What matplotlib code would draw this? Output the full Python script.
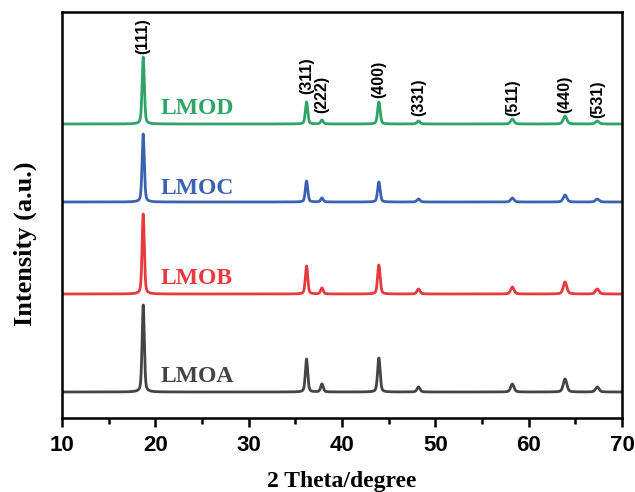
import numpy as np
import matplotlib
matplotlib.use("Agg")
import matplotlib.pyplot as plt

# ---- data ----
hkl_labels = ["(111)", "(311)", "(222)", "(400)", "(331)", "(511)", "(440)", "(531)"]
peak_pos = [18.7, 36.2, 37.85, 43.95, 48.2, 58.25, 63.9, 67.35]
peak_fwhm = [0.28, 0.30, 0.32, 0.32, 0.38, 0.42, 0.45, 0.45]

series_names = ["LMOA", "LMOB", "LMOC", "LMOD"]
series_colors = ["#444444", "#E8393F", "#3A62B0", "#2EA466"]
baselines = [26, 124, 216, 294]
heights_A = [87, 33, 8, 34, 5, 8, 13, 5]
heights_B = [80, 28, 6, 29, 5, 7, 12, 5]
heights_C = [68, 21, 4, 20, 3, 4, 7, 3]
heights_D = [67, 22, 4, 22, 3, 5, 8, 3]
series_heights = [heights_A, heights_B, heights_C, heights_D]
name_label_y = [42, 140, 230, 310]

label_text_bottom = [364, 324, 305, 320, 302, 302, 305, 300]

x = np.linspace(10, 70, 3001)


def profile(base, heights):
    y = np.full_like(x, float(base))
    for p, h, w in zip(peak_pos, heights, peak_fwhm):
        g = np.exp(-4 * np.log(2) * ((x - p) / w) ** 2)
        l = 1.0 / (1 + 4 * ((x - p) / w) ** 2)
        y += h * (0.6 * g + 0.4 * l)
    return y


fig = plt.figure(figsize=(6.35, 4.92), dpi=100)
ax = fig.add_axes([62 / 635, 74 / 492, 560 / 635, 406 / 492])

for name, col, base, hts, ly in zip(series_names, series_colors, baselines,
                                    series_heights, name_label_y):
    ax.plot(x, profile(base, hts), color=col, lw=2.0, solid_joinstyle="round")
    ax.text(20.6, ly, name, color=col,
            fontsize=17, fontweight="bold", family="Liberation Serif",
            ha="left", va="center")

for lab, p, yb in zip(hkl_labels, peak_pos, label_text_bottom):
    ax.text(p, yb, lab, rotation=90, ha="center", va="bottom",
            fontsize=11.5, family="Liberation Sans", fontweight="bold")

ax.set_xlim(10, 70)
ax.set_ylim(0, 406)
ax.set_yticks([])
ax.set_xticks(np.arange(10, 71, 10))
ax.set_xticks(np.arange(15, 70, 10), minor=True)
ax.tick_params(axis="x", which="major", direction="out", length=6.5, width=1.8,
               labelsize=16, pad=6)
ax.tick_params(axis="x", which="minor", direction="out", length=4.5, width=1.8)
for lbl in ax.get_xticklabels():
    lbl.set_fontweight("bold")
    lbl.set_family("Liberation Sans")
for s in ax.spines.values():
    s.set_linewidth(1.8)
    s.set_color("black")

fig.text(342 / 635, 1 - 481 / 492, "2 Theta/degree", fontsize=17,
         fontweight="bold", family="Liberation Serif", ha="center", va="center")
fig.text(25 / 635, 1 - 244 / 492, "Intensity (a.u.)", fontsize=19,
         fontweight="bold", family="Liberation Serif", ha="center",
         va="center", rotation=90)

fig.savefig("out.png", dpi=100)
